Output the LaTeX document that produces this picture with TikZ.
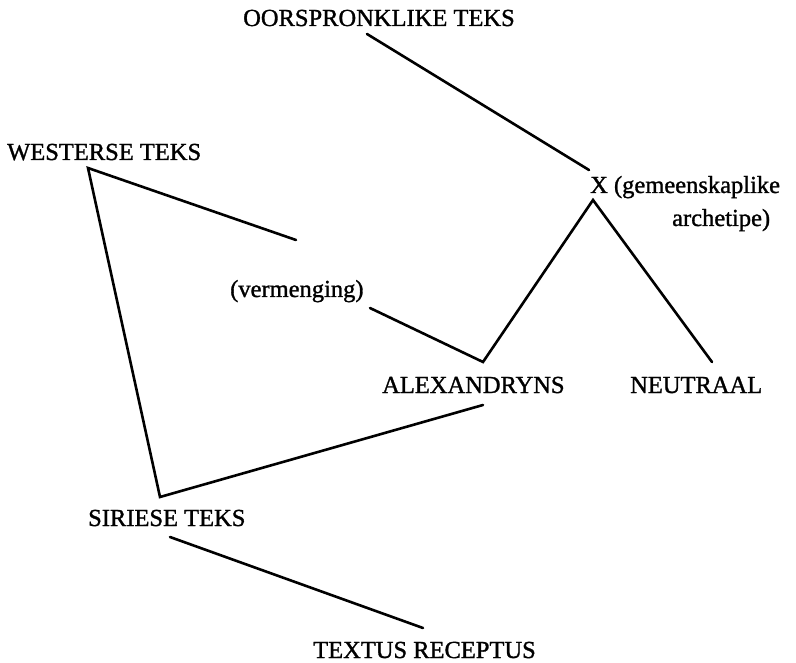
\documentclass[tikz,border=0pt]{standalone}
\usepackage{fontspec}
\setmainfont{Liberation Serif}
\newfontfamily\lblfont{Liberation Serif}[FakeBold=1.2]
\usetikzlibrary{positioning}

\begin{document}
\begin{tikzpicture}[x=1pt,y=-1pt,
  lbl/.style={anchor=base west,inner sep=0pt,font=\lblfont\fontsize{24.5}{26}\selectfont},
  tak/.style={line width=2.6pt,line cap=round,line join=miter}]
\useasboundingbox (0,0) rectangle (796,663);
% labels
\node[lbl] (oors) at (243,26) {OORSPRONKLIKE TEKS};
\node[lbl] (x) at (590,193) {X (gemeenskaplike};
\node[lbl] (arch) at (672,226) {archetipe)};
\node[lbl] (west) at (7,160) {WESTERSE TEKS};
\node[lbl] (verm) at (230,297) {(vermenging)};
\node[lbl] (alex) at (382,393) {ALEXANDRYNS};
\node[lbl] (neut) at (630,393) {NEUTRAAL};
\node[lbl] (siri) at (88,526) {SIRIESE TEKS};
\node[lbl] (recep) at (313,658) {TEXTUS RECEPTUS};
% vertices
\coordinate (o1) at (367,34);
\coordinate (xtop) at (589,170);
\coordinate (xbot) at (593,200);
\coordinate (w1) at (88,168);
\coordinate (v1) at (296,240);
\coordinate (v2) at (370,308);
\coordinate (a1) at (483,362);
\coordinate (a2) at (483,405);
\coordinate (n1) at (712,362);
\coordinate (s1) at (160,497);
\coordinate (s2) at (170,537);
\coordinate (t1) at (423,628);
% lines
\draw[tak] (o1) -- (xtop);
\draw[tak] (v1) -- (w1) -- (s1) -- (a2);
\draw[tak] (v2) -- (a1) -- (xbot) -- (n1);
\draw[tak] (s2) -- (t1);
\end{tikzpicture}
\end{document}
